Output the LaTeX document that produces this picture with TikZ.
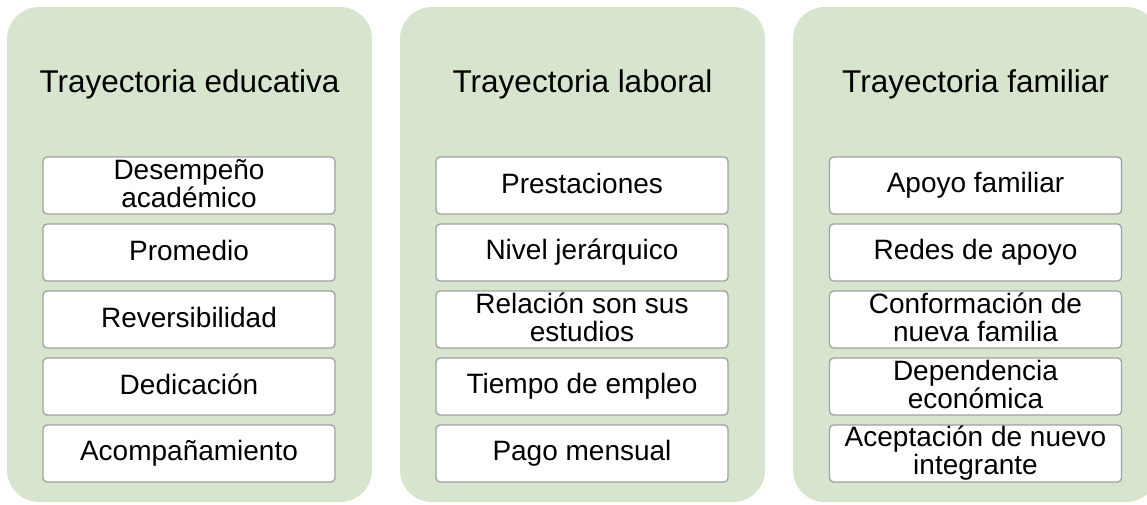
\documentclass[tikz,border=0pt]{standalone}
\usepackage{fontspec}
\setmainfont{Liberation Sans}
\usepackage{tikz}
\definecolor{panelgreen}{RGB}{215,228,206}
\definecolor{boxgray}{RGB}{160,160,160}
\newcommand{\itemstrut}{\rule[-4pt]{0pt}{23pt}}
\tikzset{
	panel/.style={fill=panelgreen,draw=none,rounded corners=32pt,minimum width=365pt,minimum height=495pt,inner sep=0pt},
	title/.style={anchor=base,font=\fontsize{31.5}{36}\selectfont},
	itembox/.style={draw=boxgray,line width=1.3pt,fill=white,rectangle,rounded corners=4pt,align=center,minimum width=292pt,minimum height=57pt,inner sep=0pt,font=\fontsize{28}{28}\selectfont,execute at begin node=\itemstrut,execute at end node=\itemstrut}
}
\begin{document}
\begin{tikzpicture}[x=1pt,y=-1pt]
			\useasboundingbox (0,0) rectangle (1147,504);
			\node[panel] (pedu) at (189.5,254.5) {};
			\node[panel] (plab) at (582.5,254.5) {};
			\node[panel] (pfam) at (975.5,254.5) {};
			
			\node[title] (tedu) at (189.5,92) {Trayectoria educativa};
			\node[title] (tlab) at (582.5,92) {Trayectoria laboral};
			\node[title] (tfam) at (975.5,92) {Trayectoria familiar};
			
			\node[itembox] (edu1) at (189,185.5) {Desempeño\\académico};
			\node[itembox] (edu2) at (189,252.5) {Promedio};
			\node[itembox] (edu3) at (189,319.5) {Reversibilidad};
			\node[itembox] (edu4) at (189,386.5) {Dedicación};
			\node[itembox] (edu5) at (189,453.5) {Acompañamiento};
			
			\node[itembox] (lab1) at (582,185.5) {Prestaciones};
			\node[itembox] (lab2) at (582,252.5) {Nivel jerárquico};
			\node[itembox] (lab3) at (582,319.5) {Relación son sus\\estudios};
			\node[itembox] (lab4) at (582,386.5) {Tiempo de empleo};
			\node[itembox] (lab5) at (582,453.5) {Pago mensual};
			
			\node[itembox] (fam1) at (975.5,185.5) {Apoyo familiar};
			\node[itembox] (fam2) at (975.5,252.5) {Redes de apoyo};
			\node[itembox] (fam3) at (975.5,319.5) {Conformación de\\nueva familia};
			\node[itembox] (fam4) at (975.5,386.5) {Dependencia\\económica};
			\node[itembox] (fam5) at (975.5,453.5) {Aceptación de nuevo\\integrante};
		\end{tikzpicture}
\end{document}
